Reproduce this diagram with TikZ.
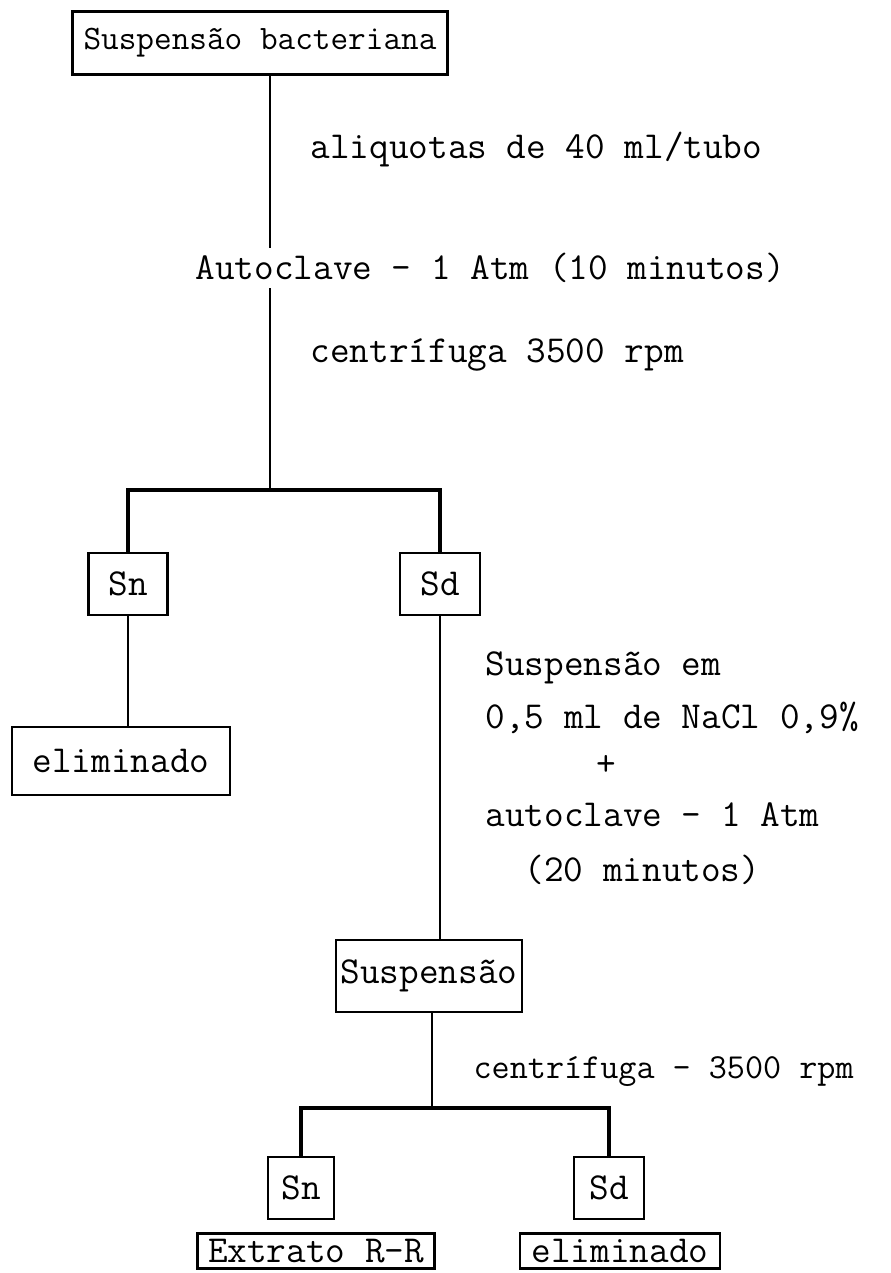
\documentclass[tikz,border=0pt]{standalone}
\usepackage{fontspec}
\setmonofont{Latin Modern Mono}
\begin{document}
\begin{tikzpicture}[x=0.02cm,y=-0.02cm,
  every node/.style={font=\fontsize{21.7}{26}\selectfont\ttfamily},
  box/.style={draw, line width=1.5pt, inner sep=0pt},
  txt/.style={anchor=west, inner sep=3pt},
  endbox/.style={draw, line width=1.5pt, anchor=north, inner xsep=6pt,
    inner ysep=3.5pt, text height=13pt, text depth=0pt},
  link/.style={line width=1.5pt},
  bar/.style={line width=2pt}]
\useasboundingbox (0,0) rectangle (891,1273);

\node[box, minimum width=7.5cm, minimum height=1.26cm, font=\fontsize{19.5}{23}\selectfont\ttfamily] (susp) at (260,43) {Suspensão bacteriana};
\node[txt] (aliq) at (305,150) {aliquotas de 40 ml/tubo};
\node[txt] (aut1) at (190,268) {Autoclave - 1 Atm (10 minutos)};
\node[txt] (cent1) at (305,355) {centrífuga 3500 rpm};
\coordinate (split1) at (270,490);

\node[box, minimum width=1.58cm, minimum height=1.24cm] (sn1) at (128,584) {Sn};
\node[box, minimum width=1.6cm, minimum height=1.24cm] (sd1) at (440,584) {Sd};
\node[box, minimum width=4.36cm, minimum height=1.36cm] (elim1) at (121,761) {eliminado};

\node[txt] (res1) at (480,668) {Suspensão em};
\node[txt] (res2) at (480,718) {0,5 ml de NaCl 0,9\%};
\node (plus) at (606,765) {+};
\node[txt] (aut2) at (480,815) {autoclave - 1 Atm};
\node[txt] (aut3) at (519,870) {(20 minutos)};

\node[box, minimum width=3.72cm, minimum height=1.44cm] (susp2) at (429,976) {Suspensão};
\node[txt, font=\fontsize{20}{24}\selectfont\ttfamily] (cent2) at (468,1072) {centrífuga - 3500 rpm};
\coordinate (split2) at (432,1108);

\node[box, minimum width=1.32cm, minimum height=1.24cm] (sn2) at (301,1188) {Sn};
\node[box, minimum width=1.4cm, minimum height=1.24cm] (sd2) at (609,1188) {Sd};
\node[endbox, minimum width=4.56cm] (extr) at (316,1232) {Extrato R-R};
\node[endbox, minimum width=4cm] (elim2) at (620,1232) {eliminado};

\draw[link] (susp.south -| split1) -- (aut1.north -| split1);
\draw[link] (aut1.south -| split1) -- (split1);
\draw[bar] (sn1.north) |- (split1) -| (sd1.north);
\draw[link] (sn1.south) -- (sn1.south |- elim1.north);
\draw[link] (sd1.south) -- (sd1.south |- susp2.north);
\draw[link] (susp2.south -| split2) -- (split2);
\draw[bar] (sn2.north) |- (split2) -| (sd2.north);
\end{tikzpicture}
\end{document}
